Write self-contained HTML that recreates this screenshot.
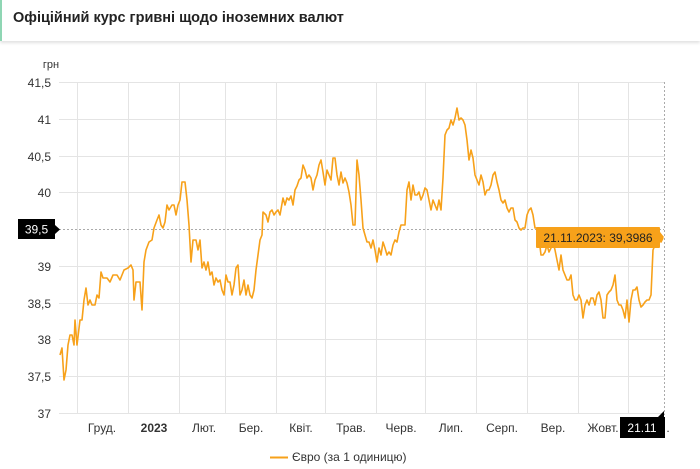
<!DOCTYPE html>
<html><head><meta charset="utf-8"><style>
body{margin:0;width:700px;height:469px;background:#fff;font-family:"Liberation Sans",Roboto,sans-serif;overflow:hidden;position:relative}
.hdr{position:absolute;left:0;top:0;width:700px;height:41px;border-left:2px solid #8fd6b4;box-sizing:border-box;box-shadow:0 2px 3px rgba(0,0,0,.12);background:#fff}
.hdr span{position:absolute;left:11px;top:10px;font-size:14.5px;font-weight:bold;color:#222}
</style></head><body>
<div class="hdr"><span>Офіційний курс гривні щодо іноземних валют</span></div>
<svg width="700" height="469" style="position:absolute;left:0;top:0" font-family="Liberation Sans, sans-serif">
<g stroke="#e4e4e4" stroke-width="1">
<line x1="59" y1="82.5" x2="665" y2="82.5"/><line x1="59" y1="119.5" x2="665" y2="119.5"/>
<line x1="59" y1="156.5" x2="665" y2="156.5"/><line x1="59" y1="192.5" x2="665" y2="192.5"/>
<line x1="59" y1="266.5" x2="665" y2="266.5"/>
<line x1="59" y1="303.5" x2="665" y2="303.5"/><line x1="59" y1="339.5" x2="665" y2="339.5"/>
<line x1="59" y1="376.5" x2="665" y2="376.5"/><line x1="59" y1="413.5" x2="665" y2="413.5"/>
<line x1="77.5" y1="82" x2="77.5" y2="413"/><line x1="128.5" y1="82" x2="128.5" y2="413"/>
<line x1="179.5" y1="82" x2="179.5" y2="413"/><line x1="225.5" y1="82" x2="225.5" y2="413"/>
<line x1="276.5" y1="82" x2="276.5" y2="413"/><line x1="325.5" y1="82" x2="325.5" y2="413"/>
<line x1="376.5" y1="82" x2="376.5" y2="413"/><line x1="425.5" y1="82" x2="425.5" y2="413"/>
<line x1="476.5" y1="82" x2="476.5" y2="413"/><line x1="527.5" y1="82" x2="527.5" y2="413"/>
<line x1="578.5" y1="82" x2="578.5" y2="413"/><line x1="628.5" y1="82" x2="628.5" y2="413"/>
</g>
<line x1="59" y1="229.5" x2="664" y2="229.5" stroke="#aaa" stroke-dasharray="2,2"/>
<line x1="664.5" y1="82" x2="664.5" y2="415" stroke="#aaa" stroke-dasharray="2,2"/>
<g font-size="12" fill="#333" text-anchor="end">
<text x="51" y="68" text-anchor="middle" font-size="11">грн</text>
<text x="51" y="87">41,5</text><text x="51" y="124">41</text><text x="51" y="161">40,5</text>
<text x="51" y="197">40</text><text x="51" y="271">39</text><text x="51" y="308">38,5</text>
<text x="51" y="344">38</text><text x="51" y="381">37,5</text><text x="51" y="418">37</text>
</g>
<g font-size="12" fill="#333" text-anchor="middle">
<text x="102" y="432">Груд.</text><text x="154" y="432" font-weight="bold">2023</text>
<text x="204" y="432">Лют.</text><text x="251" y="432">Бер.</text><text x="301" y="432">Квіт.</text>
<text x="351" y="432">Трав.</text><text x="401" y="432">Черв.</text><text x="451" y="432">Лип.</text>
<text x="502" y="432">Серп.</text><text x="553" y="432">Вер.</text><text x="603" y="432">Жовт.</text>
<text x="668" y="432">.</text>
</g>
<polyline fill="none" stroke="#f7a11a" stroke-width="1.6" stroke-linejoin="round" points="60,355 62,348 64,380 66,370 68,345 70,335 72,335 74,345 75,320 77,345 80,320 82,320 84,300 86,288 88,305 90,300 92,305 95,305 97,295 99,298 101,272 103,278 107,278 110,282 113,275 117,275 120,280 124,270 128,268 131,265 133,270 134,300 136,282 140,282 142,310 144,262 146,250 149,242 152,240 154,228 157,220 159,215 161,225 163,228 165,222 167,205 169,210 172,205 174,205 176,215 178,205 180,200 182,182 185,182 187,200 189,225 191,262 193,240 196,240 198,250 200,240 202,268 204,262 206,270 208,262 210,275 212,272 214,285 216,278 218,282 220,280 222,290 224,295 226,275 228,282 230,282 232,295 234,285 236,268 238,265 240,295 242,290 244,280 246,295 248,285 250,295 252,298 254,290 256,270 258,255 260,240 262,235 263,212 266,215 268,222 270,212 272,210 274,215 276,212 278,210 280,215 283,198 285,205 287,198 289,200 291,196 293,205 295,190 297,186 299,180 301,178 303,165 305,170 307,178 309,175 311,178 313,190 315,180 317,175 319,165 321,160 323,172 325,185 327,170 329,175 331,180 333,158 335,158 337,175 339,185 341,172 343,183 345,178 347,183 349,192 351,205 353,225 355,225 357,160 359,175 361,200 363,228 365,235 367,242 369,242 371,248 373,240 375,250 377,262 379,248 381,255 383,242 385,248 387,255 389,252 391,255 393,245 395,240 397,242 399,232 401,225 403,225 405,225 407,190 409,182 411,200 413,185 415,195 417,195 419,192 421,200 423,195 425,188 427,190 429,200 431,210 433,200 435,205 437,210 439,200 441,210 443,178 445,135 447,130 449,128 451,120 453,125 455,118 457,108 459,120 461,118 463,120 465,125 467,140 469,160 471,150 473,158 475,175 477,180 479,185 481,175 483,182 485,195 487,190 489,190 491,185 493,175 495,172 497,182 499,190 501,200 503,203 505,200 507,208 509,212 511,208 513,208 515,220 517,222 519,228 521,230 523,228 525,228 527,215 529,210 531,208 533,215 535,228 537,228 539,238 541,255 543,255 545,252 547,245 549,252 551,248 553,242 555,250 557,260 559,270 561,255 563,270 565,275 567,280 569,280 571,275 573,295 575,300 577,300 579,295 581,300 583,318 585,305 587,300 589,305 591,298 593,298 595,305 597,295 599,292 601,300 603,318 605,318 607,295 609,292 611,290 613,285 615,275 617,300 619,305 621,305 623,310 625,318 627,300 629,322 631,300 633,290 635,290 637,287 639,300 641,307 643,305 645,302 647,300 649,300 651,295 653,250 655,245 657,240 659,238 661,242 663,238"/>
<rect x="18" y="219" width="37" height="20" fill="#000"/>
<polygon points="55,225 60,229.5 55,234" fill="#000"/>
<text x="36.5" y="233.5" fill="#fff" font-size="12" text-anchor="middle">39,5</text>
<rect x="536" y="227" width="124" height="21" fill="#f7a11a" rx="1"/>
<polygon points="660,232 664,237 660,242" fill="#f7a11a"/>
<text x="598" y="242" fill="#222" font-size="12" text-anchor="middle">21.11.2023: 39,3986</text>
<rect x="620" y="417" width="45" height="21" fill="#000"/>
<polygon points="658,417 664,411 664,417" fill="#000"/>
<text x="642" y="432" fill="#fff" font-size="12" text-anchor="middle">21.11</text>
<line x1="270" y1="457.5" x2="288" y2="457.5" stroke="#f7a11a" stroke-width="2"/>
<text x="292" y="461" fill="#333" font-size="12">Євро (за 1 одиницю)</text>
</svg>
</body></html>
